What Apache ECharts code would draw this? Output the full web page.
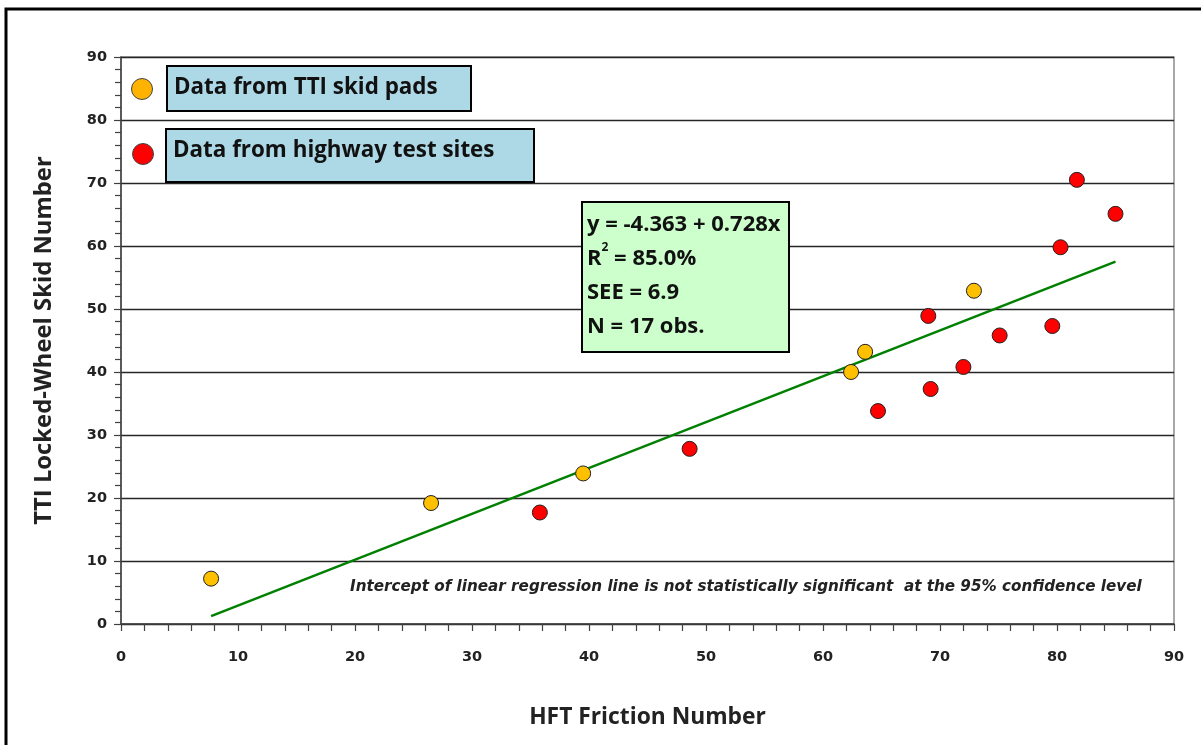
<!DOCTYPE html>
<html>
<head>
<meta charset="utf-8">
<script src="https://cdn.jsdelivr.net/npm/echarts@6/dist/echarts.min.js"></script>
<style>
html,body{margin:0;padding:0;background:#fff;}
#chart{width:1201px;height:745px;}
</style>
</head>
<body>
<div id="chart"></div>
<script>
// TTI skid pads (yellow)
var ttiX = [7.7, 26.5, 39.5, 62.4, 63.6, 72.9];
var ttiY = [7.2, 19.2, 23.9, 40.0, 43.2, 52.9];
// Highway test sites (red)
var hwyX = [35.8, 48.6, 64.7, 69.0, 69.2, 72.0, 75.1, 79.6, 80.3, 81.7, 85.0];
var hwyY = [17.7, 27.8, 33.8, 48.9, 37.3, 40.8, 45.8, 47.3, 59.8, 70.5, 65.1];
// regression stated on the chart
var intercept = -4.363;
var slope = 0.728;
var xTicks = [0, 10, 20, 30, 40, 50, 60, 70, 80, 90];
var yTicks = [0, 10, 20, 30, 40, 50, 60, 70, 80, 90];
var legendLabels = ['Data from TTI skid pads', 'Data from highway test sites'];
var statLines = ['y = -4.363 + 0.728x', 'R{sup|2} = 85.0%', 'SEE = 6.9', 'N = 17 obs.'];
var noteText = 'Intercept of linear regression line is not statistically significant  at the 95% confidence level';
var xName = 'HFT Friction Number';
var yName = 'TTI Locked-Wheel Skid Number';

function zip(xs, ys) { return xs.map(function (x, i) { return [x, ys[i]]; }); }
var allX = ttiX.concat(hwyX);
var xMin = Math.min.apply(null, allX), xMax = Math.max.apply(null, allX);
var regLine = [[xMin, intercept + slope * xMin], [xMax, intercept + slope * xMax]];

var chart = echarts.init(document.getElementById('chart'), null, {renderer: 'canvas'});
var titleFont = '"Open Sans", sans-serif';
var tickFont = '"DejaVu Sans", Verdana, sans-serif';

var option = {
  animation: false,
  backgroundColor: '#ffffff',
  grid: {left: 121, right: 27, top: 57, bottom: 121, show: true, borderColor: '#8c8c8c', borderWidth: 1.5, backgroundColor: 'transparent'},
  xAxis: {
    type: 'value', min: 0, max: 90, interval: 10,
    name: xName, nameLocation: 'middle', nameGap: 82,
    nameTextStyle: {fontFamily: titleFont, fontWeight: 'bold', fontSize: 22.8, color: '#222'},
    axisLine: {show: true, lineStyle: {color: '#404040', width: 1.5}},
    axisTick: {show: true, length: 7, lineStyle: {color: '#404040', width: 1.2}},
    minorTick: {show: true, splitNumber: 5, length: 7, lineStyle: {color: '#404040', width: 1.2}},
    axisLabel: {margin: 26, fontFamily: tickFont, fontWeight: 'bold', fontSize: 14.5, color: '#222',
      formatter: function (v) { return xTicks.indexOf(v) >= 0 ? String(v) : ''; }},
    splitLine: {show: false}
  },
  yAxis: {
    type: 'value', min: 0, max: 90, interval: 10,
    name: yName, nameLocation: 'middle', nameGap: 65, nameRotate: 90,
    nameTextStyle: {fontFamily: titleFont, fontWeight: 'bold', fontSize: 23.8, color: '#222'},
    axisLine: {show: true, lineStyle: {color: '#404040', width: 1.5}},
    axisTick: {show: true, length: 7, lineStyle: {color: '#404040', width: 1.2}},
    minorTick: {show: true, splitNumber: 5, length: 6, lineStyle: {color: '#404040', width: 1.2}},
    axisLabel: {margin: 14, fontFamily: tickFont, fontWeight: 'bold', fontSize: 14.5, color: '#222',
      formatter: function (v) { return yTicks.indexOf(v) >= 0 ? String(v) : ''; }},
    splitLine: {show: true, lineStyle: {color: '#262626', width: 1.3}}
  },
  series: [
    {
      type: 'line', data: regLine, showSymbol: false, symbol: 'none',
      lineStyle: {color: '#008000', width: 2.5}, z: 2, silent: true
    },
    {
      type: 'scatter', data: zip(ttiX, ttiY), symbol: 'circle', symbolSize: 15,
      itemStyle: {color: '#FFC000', borderColor: '#222', borderWidth: 1, opacity: 1}, z: 3
    },
    {
      type: 'scatter', data: zip(hwyX, hwyY), symbol: 'circle', symbolSize: 15,
      itemStyle: {color: '#FF0000', borderColor: '#222', borderWidth: 1, opacity: 1}, z: 3
    }
  ],
  graphic: [
    // outer frame
    {type: 'rect', shape: {x: 6, y: 9, width: 1220, height: 780}, style: {fill: 'none', stroke: '#000', lineWidth: 3}, z: 100},
    // legend
    {type: 'circle', shape: {cx: 142, cy: 89, r: 10.5}, style: {fill: '#FFB300', stroke: '#444', lineWidth: 1}, z: 100},
    {type: 'rect', shape: {x: 167, y: 66, width: 304, height: 45}, style: {fill: '#ADD8E6', stroke: '#000', lineWidth: 2}, z: 100},
    {type: 'text', x: 174, y: 88, style: {text: legendLabels[0], font: 'bold 22.4px "Open Sans", sans-serif', fill: '#111', textVerticalAlign: 'middle'}, z: 101},
    {type: 'circle', shape: {cx: 143, cy: 154, r: 10.5}, style: {fill: '#FF0000', stroke: '#444', lineWidth: 1}, z: 100},
    {type: 'rect', shape: {x: 166, y: 129, width: 368, height: 53}, style: {fill: '#ADD8E6', stroke: '#000', lineWidth: 2}, z: 100},
    {type: 'text', x: 173, y: 151, style: {text: legendLabels[1], font: 'bold 22.4px "Open Sans", sans-serif', fill: '#111', textVerticalAlign: 'middle'}, z: 101},
    // stats box
    {type: 'rect', shape: {x: 582, y: 202, width: 207, height: 150}, style: {fill: '#CCFFCC', stroke: '#000', lineWidth: 2}, z: 100},
    {type: 'text', x: 587, y: 208, z: 101,
      style: {
        text: statLines.join('\n'),
        font: 'bold 22px "Open Sans", sans-serif', fill: '#111', lineHeight: 34,
        rich: {sup: {fontSize: 12, fontWeight: 'bold', fontFamily: 'Open Sans', verticalAlign: 'top', padding: [0, 0, 12, 0], lineHeight: 34, fill: '#111'}}
      }},
    // note
    {type: 'text', x: 350, y: 587, z: 101,
      style: {text: noteText, font: 'italic bold 15.2px "DejaVu Sans", sans-serif', fill: '#222', textVerticalAlign: 'middle'}}
  ]
};
chart.setOption(option);
</script>
</body>
</html>
